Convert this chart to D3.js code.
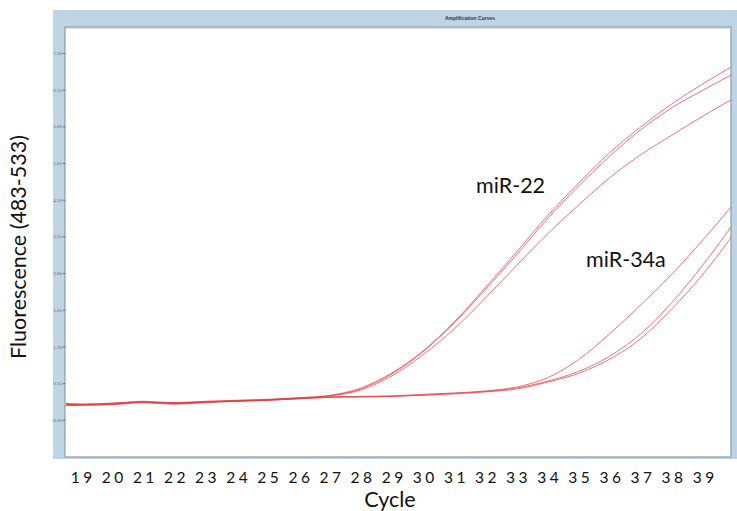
<!DOCTYPE html>
<html>
<head>
<meta charset="utf-8">
<script src="https://cdn.jsdelivr.net/npm/d3@7"></script>
<style>
  body { margin: 0; background: #fff; }
  svg { display: block; font-family: Lato, "Open Sans", sans-serif; }
</style>
</head>
<body>
<svg id="chart" width="737" height="511"></svg>
<script>
const cycles = [18.5, 19, 20, 21, 22, 23, 24, 25, 26, 27, 28, 29, 30, 31, 32, 33, 34, 35, 36, 37, 38, 39, 39.9];

// miR-22 replicates
const mir22A = [0.12, 0.11, 0.13, 0.17, 0.14, 0.17, 0.19, 0.21, 0.25, 0.30, 0.45, 0.76, 1.21, 1.80, 2.50, 3.23, 3.97, 4.64, 5.26, 5.79, 6.26, 6.67, 7.01];
const mir22B = [0.10, 0.10, 0.12, 0.16, 0.13, 0.16, 0.18, 0.20, 0.24, 0.29, 0.43, 0.74, 1.19, 1.78, 2.46, 3.17, 3.91, 4.58, 5.19, 5.73, 6.18, 6.54, 6.85];
const mir22C = [0.14, 0.12, 0.14, 0.18, 0.15, 0.18, 0.20, 0.22, 0.25, 0.29, 0.41, 0.70, 1.13, 1.66, 2.29, 2.95, 3.60, 4.19, 4.75, 5.22, 5.62, 6.01, 6.34];

// miR-34a replicates
const mir34aA = [0.11, 0.10, 0.12, 0.16, 0.13, 0.16, 0.19, 0.21, 0.24, 0.27, 0.28, 0.29, 0.32, 0.35, 0.39, 0.47, 0.66, 1.03, 1.56, 2.15, 2.78, 3.48, 4.15];
const mir34aB = [0.13, 0.12, 0.14, 0.16, 0.15, 0.17, 0.18, 0.20, 0.23, 0.26, 0.27, 0.28, 0.31, 0.34, 0.38, 0.45, 0.59, 0.79, 1.10, 1.56, 2.20, 2.97, 3.74];
const mir34aC = [0.09, 0.10, 0.11, 0.15, 0.12, 0.15, 0.18, 0.20, 0.23, 0.26, 0.27, 0.28, 0.30, 0.33, 0.37, 0.43, 0.57, 0.75, 1.04, 1.46, 2.07, 2.78, 3.52];

const xTicks = [19, 20, 21, 22, 23, 24, 25, 26, 27, 28, 29, 30, 31, 32, 33, 34, 35, 36, 37, 38, 39];
const yTicks = [-0.20, 0.55, 1.30, 2.05, 2.80, 3.55, 4.30, 5.05, 5.80, 6.55, 7.30];

const allCurves = [mir22A, mir22B, mir22C, mir34aA, mir34aB, mir34aC];

// plot box (inside the blue instrument frame)
const boxLeft = 65, boxRight = 731, boxTop = 27, boxBottom = 457;

const svg = d3.select("#chart");

const x = d3.scaleLinear()
  .domain([18.5, 39.9])
  .range([boxLeft + 0.4, boxRight]);

const y = d3.scaleLinear()
  .domain([-0.96, 7.81])
  .range([boxBottom, boxTop + 1]);

// blue frame + white plot area
svg.append("rect")
  .attr("x", 53).attr("y", 10)
  .attr("width", 737 - 53).attr("height", 449)
  .attr("fill", "#bfd4e5");

svg.append("rect")
  .attr("x", boxLeft).attr("y", boxTop)
  .attr("width", boxRight - boxLeft).attr("height", boxBottom - boxTop)
  .attr("fill", "#fff")
  .attr("stroke", "#8e9aa6")
  .attr("stroke-width", 1.2);

svg.append("line")
  .attr("x1", boxLeft + 1).attr("x2", boxRight - 1)
  .attr("y1", boxTop + 1.5).attr("y2", boxTop + 1.5)
  .attr("stroke", "#dcdcdc");

svg.append("text")
  .attr("x", 470).attr("y", 20)
  .attr("text-anchor", "middle")
  .style("font-family", "Liberation Sans, sans-serif")
  .style("font-size", "5px")
  .style("font-weight", "bold")
  .attr("fill", "#333")
  .text("Amplification Curves");

// tiny instrument y ticks
const yAxis = svg.append("g")
  .attr("transform", "translate(" + boxLeft + ",0)")
  .call(d3.axisLeft(y).tickValues(yTicks).tickSize(2).tickPadding(1).tickFormat(d3.format(".2f")));
yAxis.select(".domain").remove();
yAxis.selectAll("line").attr("stroke", "#556");
yAxis.selectAll("text")
  .style("font-family", "Liberation Serif, serif")
  .style("font-size", "5px")
  .attr("fill", "#667");

// curves
svg.append("clipPath").attr("id", "clip")
  .append("rect")
  .attr("x", boxLeft + 1).attr("y", boxTop + 1)
  .attr("width", boxRight - boxLeft - 1).attr("height", boxBottom - boxTop - 2);

const line = d3.line()
  .x((d, i) => x(cycles[i]))
  .y(d => y(d))
  .curve(d3.curveMonotoneX);

svg.append("g")
  .attr("clip-path", "url(#clip)")
  .selectAll("path")
  .data(allCurves)
  .enter()
  .append("path")
  .attr("d", line)
  .attr("fill", "none")
  .attr("stroke", "#e63c42")
  .attr("stroke-width", 0.9)
  .attr("stroke-opacity", 0.8);

// x axis labels under the frame
const xAxis = svg.append("g")
  .attr("transform", "translate(0," + boxBottom + ")")
  .call(d3.axisBottom(x).tickValues(xTicks).tickSize(0).tickPadding(15));
xAxis.select(".domain").remove();
xAxis.selectAll("text")
  .style("font-family", "Lato, sans-serif")
  .style("font-size", "15.5px")
  .style("letter-spacing", "3.5px")
  .attr("dx", "1.7px")
  .attr("fill", "#111");

svg.append("text")
  .attr("x", 390).attr("y", 507)
  .attr("text-anchor", "middle")
  .style("font-size", "21.5px")
  .attr("fill", "#111")
  .text("Cycle");

svg.append("text")
  .attr("transform", "translate(26,247) rotate(-90)")
  .attr("text-anchor", "middle")
  .style("font-size", "21.5px")
  .attr("fill", "#111")
  .text("Fluorescence (483-533)");

// series labels
svg.append("text")
  .attr("x", 476).attr("y", 193)
  .style("font-size", "21.5px")
  .attr("fill", "#111")
  .text("miR-22");

svg.append("text")
  .attr("x", 586).attr("y", 267)
  .style("font-size", "21.5px")
  .attr("fill", "#111")
  .text("miR-34a");
</script>
</body>
</html>
